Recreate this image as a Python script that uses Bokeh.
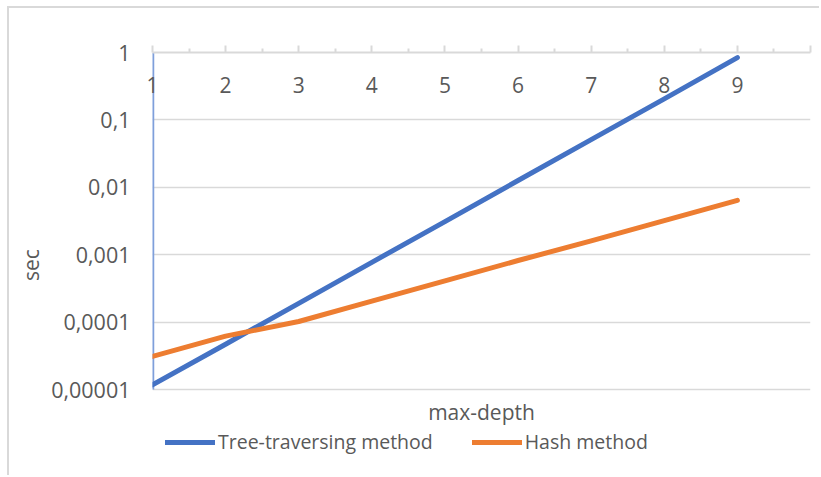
from bokeh.plotting import figure
from bokeh.models import (Range1d, FixedTicker, CustomJSTickFormatter,
                          Legend, LegendItem, Label)
from bokeh.embed import file_html
from bokeh.resources import INLINE

# ---- data ----
max_depth = [1, 2, 3, 4, 5, 6, 7, 8, 9]
tree_sec = [1.17e-5, 4.7e-5, 1.9e-4, 7.7e-4, 3.1e-3, 1.26e-2, 5.1e-2, 0.205, 0.84]
hash_sec = [3.1e-5, 6.2e-5, 1.02e-4, 2.05e-4, 4.1e-4, 8.2e-4, 1.6e-3, 3.2e-3, 6.4e-3]
series_names = ["Tree-traversing method", "Hash method"]

x_ticks = [1, 2, 3, 4, 5, 6, 7, 8, 9, 10]
x_minor_ticks = [1.5, 2.5, 3.5, 4.5, 5.5, 6.5, 7.5, 8.5, 9.5]
x_tick_labels = ["1", "2", "3", "4", "5", "6", "7", "8", "9"]
y_ticks = [0.00001, 0.0001, 0.001, 0.01, 0.1, 1]
y_tick_labels = ["0,00001", "0,0001", "0,001", "0,01", "0,1", "1"]
x_title = "max-depth"
y_title = "sec"

BLUE = "#4472C4"
ORANGE = "#ED7D31"
TXT = "#595959"
GRID = "#d9d9d9"
AXIS_BLUE = "#7f9fdb"
FONT = "Open Sans"

# layout (pixels)
W, H = 812, 469
FRAME_TOP, FRAME_LEFT, RIGHT_PAD = 44, 143, 11
DECADE_PX = 67.4
BELOW_PX = 88          # area under the lowest decade kept inside the frame (title + legend)

y_lo = y_ticks[0] / 10 ** (BELOW_PX / DECADE_PX)

p = figure(width=W, height=H,
           x_range=Range1d(x_ticks[0], x_ticks[-1]), y_range=Range1d(y_lo, y_ticks[-1]),
           y_axis_type="log", x_axis_location="above",
           output_backend="svg", toolbar_location=None,
           min_border_left=FRAME_LEFT, min_border_right=RIGHT_PAD,
           min_border_top=FRAME_TOP, min_border_bottom=0)
p.outline_line_color = None
p.background_fill_color = "white"
p.border_fill_color = "white"
p.styles = {"margin-left": "7px", "margin-top": "6px",
            "border-left": "2px solid #d9d9d9", "border-top": "2px solid #d9d9d9"}

# top category axis
xa = p.xaxis[0]
xa.ticker = FixedTicker(ticks=x_ticks, minor_ticks=x_minor_ticks)
xa.formatter = CustomJSTickFormatter(args=dict(labels=x_tick_labels), code="""
const i = Math.round(tick) - 1;
return (i >= 0 && i < labels.length) ? labels[i] : "";
""")
xa.axis_line_color = GRID
xa.axis_line_width = 2
xa.major_tick_line_color = GRID
xa.major_tick_line_width = 2
xa.minor_tick_line_color = GRID
xa.minor_tick_line_width = 2
xa.major_tick_out = 7
xa.major_tick_in = 0
xa.minor_tick_out = 4
xa.minor_tick_in = 0
xa.major_label_standoff = -47
xa.major_label_text_font = FONT
xa.major_label_text_font_size = "21px"
xa.major_label_text_color = TXT

# y log axis
ya = p.yaxis[0]
ya.ticker = FixedTicker(ticks=y_ticks, minor_ticks=[])
ya.formatter = CustomJSTickFormatter(args=dict(vals=y_ticks, labels=y_tick_labels), code="""
let best = 0;
for (let i = 0; i < vals.length; i++) {
  if (Math.abs(Math.log10(vals[i]) - Math.log10(tick)) <
      Math.abs(Math.log10(vals[best]) - Math.log10(tick))) best = i;
}
return labels[best];
""")
ya.axis_line_color = None
ya.major_tick_line_color = None
ya.minor_tick_line_color = None
ya.major_tick_out = 0
ya.major_label_standoff = 22
ya.major_label_text_font = FONT
ya.major_label_text_font_size = "21.5px"
ya.major_label_text_color = TXT
ya.axis_label = y_title
ya.axis_label_text_font = FONT
ya.axis_label_text_font_size = "21px"
ya.axis_label_text_font_style = "normal"
ya.axis_label_text_color = TXT
ya.axis_label_standoff = 3

p.xgrid.visible = False
p.ygrid.ticker = FixedTicker(ticks=y_ticks, minor_ticks=[])
p.ygrid.grid_line_color = GRID
p.ygrid.grid_line_width = 1.5

# vertical axis line (only over the value range, like the original)
p.segment(x0=[x_ticks[0]], y0=[y_ticks[0]], x1=[x_ticks[0]], y1=[y_ticks[-1]],
          line_color=AXIS_BLUE, line_width=3.5)

r1 = p.line(max_depth, tree_sec, line_width=5, line_color=BLUE,
            line_cap="round", line_join="round")
r2 = p.line(max_depth, hash_sec, line_width=5, line_color=ORANGE,
            line_cap="round", line_join="round")

# horizontal axis title, below the lowest gridline
p.add_layout(Label(x=(x_ticks[0] + x_ticks[-1]) / 2, y=66, y_units="screen",
                   text=x_title, text_align="center", text_baseline="middle",
                   text_font=FONT, text_font_size="21px", text_color=TXT))

legend = Legend(items=[LegendItem(label=series_names[0], renderers=[r1]),
                       LegendItem(label=series_names[1], renderers=[r2])],
                location=(13, 22), orientation="horizontal",
                glyph_width=50, glyph_height=20, label_standoff=3, spacing=39,
                padding=0, margin=0, border_line_color=None,
                background_fill_alpha=0,
                label_text_font=FONT, label_text_font_size="19.5px",
                label_text_color=TXT)
p.add_layout(legend, "center")

open("out.html", "w").write(file_html(p, INLINE))
